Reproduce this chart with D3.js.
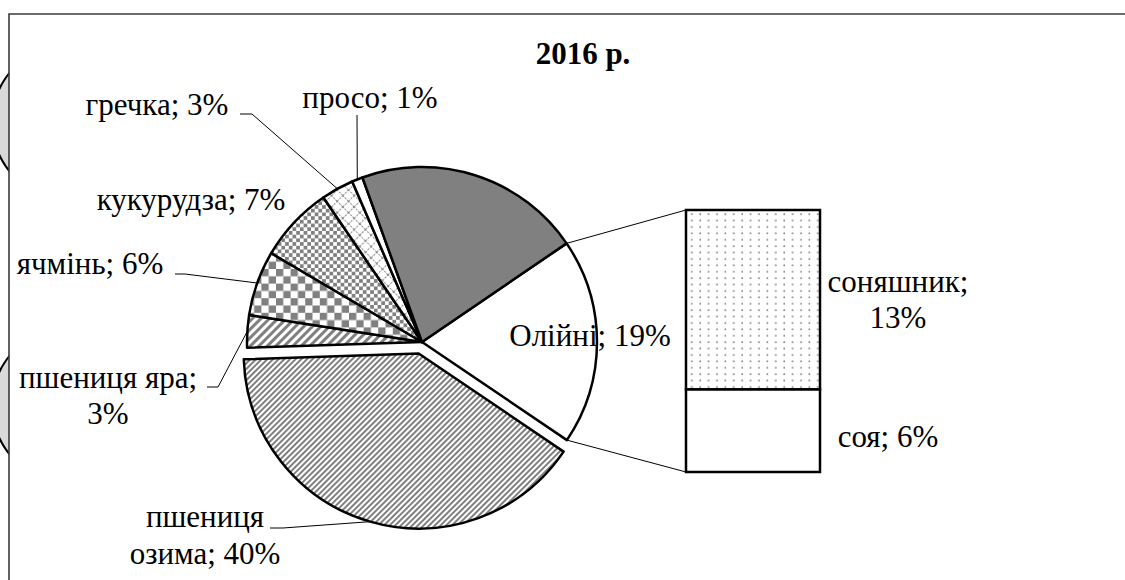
<!DOCTYPE html>
<html>
<head>
<meta charset="utf-8">
<script src="https://cdn.jsdelivr.net/npm/d3@7"></script>
</head>
<body style="margin:0;background:#fff;">
<svg id="chart" width="1125" height="580"></svg>
<script>
// pie data (clockwise, starting at the oil crops slice)
var pie_names = ["Олійні", "пшениця озима", "пшениця яра", "ячмінь", "кукурудза", "гречка", "просо", "інші"];
var pie_values = [19, 40, 3, 6, 7, 3, 1, 21];
var pie_labels = [["Олійні; 19%"], ["пшениця", "озима; 40%"], ["пшениця яра;", "3%"], ["ячмінь; 6%"], ["кукурудза; 7%"], ["гречка; 3%"], ["просо; 1%"], []];

// secondary bar (breakdown of Олійні), bottom to top
var bar_names = ["соя", "соняшник"];
var bar_values = [6, 13];
var bar_labels = [["соя; 6%"], ["соняшник;", "13%"]];

var title = "2016 р.";

var pie_fills = ["#fff", "url(#p_ozyma)", "url(#p_yara)", "url(#p_bigcheck)", "url(#p_smallcheck)", "url(#p_grid)", "#fff", "#808080"];
var bar_fills = ["#fff", "url(#p_dots)"];

var FONT = "Liberation Serif";
var FS = 31;
var svg = d3.select("#chart");
var cx = 422, cy = 342, R = 175, explode = 12;

// stray grey shapes peeking in from the left edge
svg.selectAll("circle.stray")
	.data([{y: 122}, {y: 405}])
	.enter().append("circle")
	.attr("class", "stray")
	.attr("cx", 70).attr("cy", function(d){ return d.y; }).attr("r", 78)
	.attr("fill", "#d9d9d9").attr("stroke", "#000").attr("stroke-width", 2);

svg.append("rect").attr("x", 9).attr("y", 14).attr("width", 1200).attr("height", 600).attr("fill", "#fff");
svg.append("path").attr("d", "M9,580 V14 H1125").attr("fill", "none").attr("stroke", "#3a3a3a").attr("stroke-width", 1.6);

//patterns
var defs = svg.append("defs");
function stripes(id, size, w){
	var p = defs.append("pattern").attr("id", id).attr("patternUnits", "userSpaceOnUse")
		.attr("width", size).attr("height", size).attr("patternTransform", "rotate(45)");
	p.append("rect").attr("width", size).attr("height", size).attr("fill", "#fff");
	p.append("rect").attr("width", w).attr("height", size).attr("fill", "#808080");
}
stripes("p_ozyma", 4, 2);
stripes("p_yara", 6, 3);
function checker(id, s){
	var p = defs.append("pattern").attr("id", id).attr("patternUnits", "userSpaceOnUse")
		.attr("width", 2 * s).attr("height", 2 * s);
	p.append("rect").attr("width", 2 * s).attr("height", 2 * s).attr("fill", "#fff");
	p.append("rect").attr("width", s).attr("height", s).attr("fill", "#808080");
	p.append("rect").attr("x", s).attr("y", s).attr("width", s).attr("height", s).attr("fill", "#808080");
}
checker("p_bigcheck", 7.3);
checker("p_smallcheck", 3.7);
var g = defs.append("pattern").attr("id", "p_grid").attr("patternUnits", "userSpaceOnUse")
	.attr("width", 8).attr("height", 8).attr("patternTransform", "rotate(45)");
g.append("rect").attr("width", 8).attr("height", 8).attr("fill", "#fff");
g.append("path").attr("d", "M0,0.5 H8 M0.5,0 V8").attr("stroke", "#8a8a8a").attr("stroke-width", 1.2).attr("stroke-dasharray", "2,1.2");
var dp = defs.append("pattern").attr("id", "p_dots").attr("patternUnits", "userSpaceOnUse")
	.attr("width", 8.4).attr("height", 6.4);
dp.append("rect").attr("width", 8.4).attr("height", 6.4).attr("fill", "#fff");
dp.append("circle").attr("cx", 3).attr("cy", 3).attr("r", 0.9).attr("fill", "#7a7a7a");

// title
svg.append("text").attr("x", 583).attr("y", 64).attr("text-anchor", "middle")
	.style("font-family", FONT).style("font-size", FS + "px")
	.style("font-weight", "bold").text(title);

// pie
var a0 = 55.7 * Math.PI / 180;
var pie = d3.pie().sort(null).value(function(d){ return d; })
	.startAngle(a0).endAngle(a0 + 2 * Math.PI);
var arcs = pie(pie_values);
var arc = d3.arc().innerRadius(0).outerRadius(R);

function offset(d, i){
	if (i != 1) return [0, 0];
	var m = (d.startAngle + d.endAngle) / 2;
	return [explode * Math.sin(m), -explode * Math.cos(m)];
}
function edgePoint(d, i){
	var m = (d.startAngle + d.endAngle) / 2, o = offset(d, i);
	return [cx + o[0] + R * Math.sin(m), cy + o[1] - R * Math.cos(m)];
}

svg.append("g").attr("class", "slices")
	.selectAll("path")
	.data(arcs)
	.enter().append("path")
	.attr("transform", function(d, i){ var o = offset(d, i); return "translate(" + (cx + o[0]) + "," + (cy + o[1]) + ")"; })
	.attr("d", arc)
	.attr("fill", function(d, i){ return pie_fills[i]; })
	.attr("stroke", "#000").attr("stroke-width", 2.5).attr("stroke-linejoin", "round");

// bar of pie
var barX = 686, barW = 134;
var y = d3.scaleLinear().domain([0, d3.sum(bar_values)]).range([472, 210]);
var stacked = d3.cumsum(bar_values);
var bars = bar_values.map(function(v, i){ return {v: v, y0: stacked[i] - v, y1: stacked[i], i: i}; });

// connector lines from Олійні slice to bar
var oil = arcs[0];
var conn = [
	[cx + R * Math.sin(oil.startAngle), cy - R * Math.cos(oil.startAngle), barX, y(d3.sum(bar_values))],
	[cx + R * Math.sin(oil.endAngle), cy - R * Math.cos(oil.endAngle), barX, y(0)]
];
svg.selectAll("line.conn").data(conn).enter().append("line").attr("class", "conn")
	.attr("x1", function(d){ return d[0]; }).attr("y1", function(d){ return d[1]; })
	.attr("x2", function(d){ return d[2]; }).attr("y2", function(d){ return d[3]; })
	.attr("stroke", "#000").attr("stroke-width", 1);

svg.append("g").selectAll("rect")
	.data(bars)
	.enter().append("rect")
	.attr("x", barX).attr("width", barW)
	.attr("y", function(d){ return y(d.y1); })
	.attr("height", function(d){ return y(d.y0) - y(d.y1); })
	.attr("fill", function(d){ return bar_fills[d.i]; })
	.attr("stroke", "#000").attr("stroke-width", 2.5);

// label placement: centre x, first baseline, line step, optional leader knee points
var pie_label_pos = [
	{x: 590, y: 346},
	{x: 205, y: 527, dy: 37, leader: [[270, 528], [283, 528]]},
	{x: 108, y: 388, dy: 36, leader: [[207, 387], [218, 387]]},
	{x: 90, y: 274, leader: [[175, 274], [185, 274]]},
	{x: 191, y: 210},
	{x: 157, y: 115, leader: [[240, 114], [252, 114]]},
	{x: 370, y: 108, leader: [[357, 115]]},
	{x: 0, y: 0}
];
var bar_label_pos = [
	{x: 888, y: 447},
	{x: 898, y: 292, dy: 36}
];

var line = d3.line();
function addText(x, yy, t){
	svg.append("text").attr("x", x).attr("y", yy)
		.attr("text-anchor", "middle")
		.style("font-family", FONT).style("font-size", FS + "px").attr("fill", "#000")
		.text(t);
}
pie_label_pos.forEach(function(p, i){
	if (p.leader){
		var pts = p.leader.concat([edgePoint(arcs[i], i)]);
		svg.append("path").attr("d", line(pts)).attr("fill", "none")
			.attr("stroke", "#000").attr("stroke-width", 1);
	}
	pie_labels[i].forEach(function(t, k){
		addText(p.x, p.y + k * (p.dy || 36), t);
	});
});
bar_label_pos.forEach(function(p, i){
	bar_labels[i].forEach(function(t, k){
		addText(p.x, p.y + k * (p.dy || 36), t);
	});
});
</script>
</body>
</html>
